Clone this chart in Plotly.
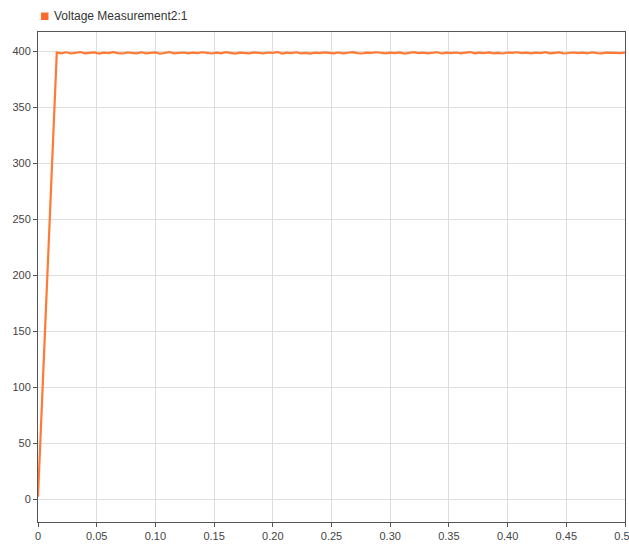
import numpy as np
import plotly.graph_objects as go

series_name = "Voltage Measurement2:1"

# Initial ramp (time in s, voltage)
rise_t = [0.0, 0.0153]
rise_v = [2.0, 396.0]

# Plateau samples (every 0.004 s from 0.016 to 0.5)
plateau_v = [
    398.6, 398.0, 398.9, 397.8, 398.4, 399.1, 397.9, 398.3, 398.8, 397.7,
    398.5, 398.1, 399.0, 398.2, 397.8, 398.7, 398.4, 397.9, 398.9, 398.0,
    398.3, 398.8, 397.6, 398.5, 399.1, 398.0, 398.2, 398.7, 397.9, 398.6,
    398.1, 398.9, 398.3, 397.8, 398.5, 398.0, 399.0, 398.2, 397.7, 398.6,
    398.4, 398.0, 398.8, 398.1, 397.9, 398.7, 398.3, 399.1, 397.8, 398.5,
    398.2, 398.9, 398.0, 398.4, 397.7, 398.6, 398.1, 398.8, 398.3, 397.9,
    398.7, 398.0, 398.5, 399.0, 398.2, 397.8, 398.6, 398.3, 398.9, 398.1,
    397.9, 398.5, 398.2, 398.8, 397.7, 398.4, 399.0, 398.1, 398.6, 398.0,
    398.3, 398.9, 397.8, 398.5, 398.2, 398.7, 398.0, 398.4, 399.1, 397.9,
    398.6, 398.2, 398.8, 398.0, 398.4, 397.8, 398.7, 398.3, 398.9, 398.1,
    398.5, 397.9, 398.6, 398.2, 399.0, 398.0, 398.4, 398.8, 397.8, 398.3,
    398.7, 398.1, 398.5, 398.0, 398.9, 398.2, 397.9, 398.6, 398.4, 398.8,
    398.2, 398.5,
]
plateau_t = list(np.round(np.arange(0.016, 0.5001, 0.004), 3))[:len(plateau_v)]

x_ticks = [0, 0.05, 0.10, 0.15, 0.20, 0.25, 0.30, 0.35, 0.40, 0.45, 0.50]
x_labels = ["0", "0.05", "0.10", "0.15", "0.20", "0.25", "0.30", "0.35", "0.40", "0.45", "0.50"]
y_ticks = [0, 50, 100, 150, 200, 250, 300, 350, 400]
y_labels = [str(v) for v in y_ticks]

t = rise_t + plateau_t
v = rise_v + plateau_v

W, H = 629, 545
ml, mr, mt, mb = 38, 4, 32, 23
pw = W - ml - mr
ph = H - mt - mb

def px(xp):
    return (xp - ml) / pw

def py(yp):
    return 1 - (yp - mt) / ph

line_color = "#FF7A35"

fig = go.Figure()
fig.add_trace(go.Scatter(x=t, y=v, mode="lines", name=series_name,
                         line=dict(color=line_color, width=2.2), showlegend=False))

axis_common = dict(showgrid=True, gridcolor="#dedede", gridwidth=1,
                   showline=True, linecolor="#555555", linewidth=1, mirror=True,
                   ticks="outside", ticklen=4, tickcolor="#555555",
                   tickfont=dict(family="Liberation Sans, Arial, sans-serif", size=11, color="#444444"),
                   zeroline=False, automargin=False, ticklabeloverflow="allow")

fig.update_xaxes(range=[0, 0.5], tickvals=x_ticks, ticktext=x_labels, **axis_common)
fig.update_yaxes(range=[-20.5, 417], tickvals=y_ticks, ticktext=y_labels, **axis_common)

# legend marker and text
fig.add_shape(type="rect", xref="paper", yref="paper",
              x0=px(41), x1=px(48.5), y0=py(20), y1=py(12.5),
              fillcolor="#FF6A2A", line=dict(width=0))
fig.add_annotation(xref="paper", yref="paper", x=px(52), y=py(16.5),
                   xanchor="left", yanchor="middle", showarrow=False,
                   text=series_name,
                   font=dict(family="Liberation Sans, Arial, sans-serif", size=12, color="#333333"))

fig.update_layout(width=W, height=H, margin=dict(l=ml, r=mr, t=mt, b=mb),
                  paper_bgcolor="white", plot_bgcolor="white")

fig.write_html("out.html", config={"displayModeBar": False},
               post_script="document.body.style.margin='0';document.body.style.overflow='hidden';")
